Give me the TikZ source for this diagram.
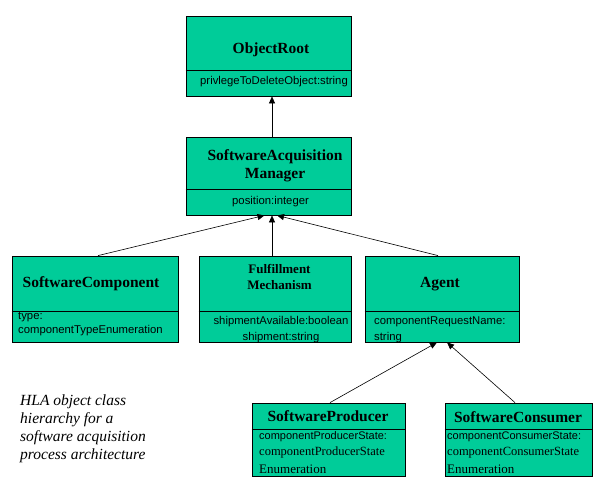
\documentclass[tikz,border=0pt]{standalone}
\usepackage{fontspec}
\setmainfont{Liberation Serif}
\setsansfont{Liberation Sans}
\usetikzlibrary{arrows.meta}
\definecolor{hlagreen}{RGB}{0,204,153}

\begin{document}
\begin{tikzpicture}[x=1pt, y=-1pt,
    cls/.style={draw=black, line width=0.8pt, fill=hlagreen, inner sep=0pt},
    ttl/.style={font=\fontsize{15.5}{18}\selectfont\bfseries, align=center, inner sep=0pt},
    attr/.style={font=\sffamily\fontsize{11.3}{16}\selectfont, inner sep=0pt},
    sep/.style={line width=0.6pt},
    inh/.style={-{Triangle[length=7pt, width=6pt]}, line width=0.6pt}]
    \useasboundingbox (0,0) rectangle (601,484);

    % class boxes
    \node [cls, minimum width=165pt, minimum height=80pt] at (268.5, 56) (OR) {};
    \node [cls, minimum width=165pt, minimum height=78pt] at (268.5, 176) (SAM) {};
    \node [cls, minimum width=166pt, minimum height=86pt] at (95, 299) (SC) {};
    \node [cls, minimum width=152pt, minimum height=86pt] at (275, 299) (FM) {};
    \node [cls, minimum width=154pt, minimum height=86pt] at (442, 299) (AG) {};
    \node [cls, minimum width=153pt, minimum height=73pt] at (328.5, 439.5) (SP) {};
    \node [cls, minimum width=147pt, minimum height=73pt] at (518.5, 439.5) (SCo) {};

    % dividers
    \draw [sep] (OR.west |- 0, 70) -- (OR.east |- 0, 70);
    \draw [sep] (SAM.west |- 0, 189) -- (SAM.east |- 0, 189);
    \draw [sep] (SC.west |- 0, 311) -- (SC.east |- 0, 311);
    \draw [sep] (FM.west |- 0, 311) -- (FM.east |- 0, 311);
    \draw [sep] (AG.west |- 0, 311) -- (AG.east |- 0, 311);
    \draw [sep] (SP.west |- 0, 429) -- (SP.east |- 0, 429);
    \draw [sep] (SCo.west |- 0, 429) -- (SCo.east |- 0, 429);

    % class names
    \node [ttl] at (271, 50) (ORT) {ObjectRoot};
    \node [ttl] at (275, 166) (SAMT) {SoftwareAcquisition\\Manager};
    \node [ttl] at (91, 284) (SCT) {SoftwareComponent};
    \node [ttl, font=\fontsize{13}{16}\selectfont\bfseries] at (279.5, 277) (FMT) {Fulfillment\\Mechanism};
    \node [ttl] at (440, 284) (AGT) {Agent};
    \node [ttl] at (328, 416) (SPT) {SoftwareProducer};
    \node [ttl] at (518, 417) (SCoT) {SoftwareConsumer};

    % attributes
    \node [attr, anchor=west] at (200, 82) (ORA) {privlegeToDeleteObject:string};
    \node [attr, anchor=west] at (232, 202) (SAMA) {position:integer};
    \node [attr, anchor=west, align=left, font=\sffamily\fontsize{11.3}{14}\selectfont] at (18, 324) (SCA) {type:\\componentTypeEnumeration};
    \node [attr, align=center] at (281, 330) (FMA) {shipmentAvailable:boolean\\shipment:string};
    \node [attr, anchor=west, align=left] at (374, 330) (AGA) {componentRequestName:\\string};
    \node [attr, anchor=west, align=left, font=\sffamily\fontsize{11}{15.5}\selectfont] at (259, 453) (SPA)
        {componentProducerState:\\{\rmfamily\fontsize{12.5}{15.5}\selectfont componentProducerState}\\[3pt]{\rmfamily\fontsize{13}{15.5}\selectfont Enumeration}};
    \node [attr, anchor=west, align=left, font=\sffamily\fontsize{11}{15.5}\selectfont] at (447, 453) (SCoA)
        {componentConsumerState:\\{\rmfamily\fontsize{12.5}{15.5}\selectfont componentConsumerState}\\[3pt]{\rmfamily\fontsize{13}{15.5}\selectfont Enumeration}};

    % inheritance
    \draw [inh] ([xshift=3.5pt]SAM.north) -- ([xshift=3.5pt]OR.south);
    \draw [inh] ([xshift=3pt]SC.north) -- ([xshift=-4pt]SAM.south);
    \draw [inh] ([xshift=-3pt]FM.north) -- ([xshift=3.5pt]SAM.south);
    \draw [inh] ([xshift=-4pt]AG.north) -- ([xshift=8.5pt]SAM.south);
    \draw [inh] ([xshift=1.5pt]SP.north) -- ([xshift=-5pt]AG.south);
    \draw [inh] ([xshift=-3.5pt]SCo.north) -- ([xshift=5pt]AG.south);

    % caption
    \node [anchor=north west, align=left, inner sep=0pt, font=\itshape\fontsize{15.5}{18}\selectfont] at (20, 395) (CAP) {HLA object class\\hierarchy for a\\software acquisition\\process architecture};
\end{tikzpicture}
\end{document}
